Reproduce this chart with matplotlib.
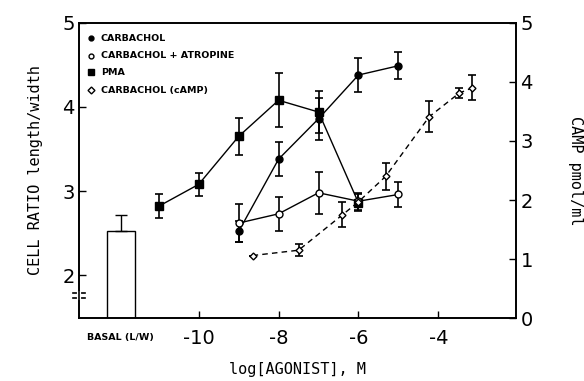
import numpy as np
import matplotlib.pyplot as plt

# basal bar
basal_x = -11.95
basal_val = 2.52
basal_err = 0.2

# carbachol (filled circles, left axis)
carb_x = [-9, -8, -7, -6, -5]
carb_y = [2.52, 3.38, 3.86, 4.38, 4.49]
carb_e = [0.12, 0.20, 0.25, 0.20, 0.16]

# carbachol + atropine (open circles, left axis)
atro_x = [-9, -8, -7, -6, -5]
atro_y = [2.62, 2.73, 2.98, 2.88, 2.96]
atro_e = [0.23, 0.20, 0.25, 0.10, 0.15]

# PMA (filled squares, left axis)
pma_x = [-11, -10, -9, -8, -7, -6]
pma_y = [2.82, 3.08, 3.65, 4.08, 3.94, 2.86]
pma_e = [0.14, 0.14, 0.22, 0.32, 0.25, 0.10]

# carbachol cAMP (open diamonds, right axis)
camp_x = [-8.65, -7.5, -6.4, -6.0, -5.32, -4.23, -3.48, -3.15]
camp_y = [1.06, 1.15, 1.75, 1.97, 2.40, 3.41, 3.81, 3.90]
camp_e = [0.0, 0.10, 0.21, 0.0, 0.23, 0.26, 0.08, 0.21]

tick_font = ['Liberation Sans Narrow', 'DejaVu Sans']
lab_font = 'DejaVu Sans Mono'

fig = plt.figure(figsize=(5.84, 3.81), dpi=100)
ax = fig.add_axes([0.135, 0.165, 0.749, 0.775])
ax2 = ax.twinx()

ax.bar([basal_x], [basal_val], width=0.7, bottom=0, color='white',
       edgecolor='black', linewidth=1.0, zorder=2)
ax.errorbar([basal_x], [basal_val], yerr=[[0], [basal_err]], fmt='none',
            ecolor='black', elinewidth=1.0, capsize=4, zorder=3)

ek = dict(ecolor='black', elinewidth=1.2, capsize=3, capthick=1.2)
ax.errorbar(pma_x, pma_y, yerr=pma_e, fmt='-s', color='black', ms=6,
            lw=1.0, zorder=4, **ek)
ax.errorbar(carb_x, carb_y, yerr=carb_e, fmt='-o', color='black', ms=5,
            lw=1.0, zorder=4, **ek)
ax.errorbar(atro_x, atro_y, yerr=atro_e, fmt='-o', color='black', ms=5,
            mfc='white', lw=1.0, zorder=5, **ek)
ax2.errorbar(camp_x, camp_y, yerr=camp_e, fmt='--D', color='black', ms=3.5,
             mfc='white', lw=1.0, dashes=(4, 3), zorder=4, **ek)

ax.set_xlim(-13, -2.05)
ax.set_ylim(1.49, 5.0)
ax2.set_ylim(0, 5)

ax.set_xticks([-10, -8, -6, -4])
ax.set_xticklabels(['-10', '-8', '-6', '-4'])
ax.set_yticks([2, 3, 4, 5])
ax2.set_yticks([0, 1, 2, 3, 4, 5])
ax.tick_params(axis='both', direction='in', length=5, width=1,
               labelsize=14, pad=3)
ax.tick_params(axis='x', pad=8)
ax2.tick_params(axis='y', direction='in', length=5, width=1,
                labelsize=14, pad=3)
for lbl in ax.get_xticklabels() + ax.get_yticklabels() + ax2.get_yticklabels():
    lbl.set_family(tick_font)

for a in (ax, ax2):
    for s in a.spines.values():
        s.set_linewidth(1.2)

# broken left axis
ax.plot([-13.15, -12.85], [1.79, 1.79], color='black', lw=1.2,
        clip_on=False, zorder=6)
ax.plot([-13.15, -12.85], [1.73, 1.73], color='black', lw=1.2,
        clip_on=False, zorder=6)
ax.plot([-13, -13], [1.735, 1.785], color='white', lw=3,
        clip_on=False, zorder=6)

ax.text(basal_x, 1.49 - 0.23, 'BASAL (L/W)', ha='center', va='center',
        fontsize=6.8, fontweight='bold', family=tick_font)

ax.set_ylabel('CELL RATIO length/width', family=lab_font, fontsize=11,
              labelpad=14)
ax2.set_ylabel('CAMP pmol/ml', family=lab_font, fontsize=11, rotation=-90,
               labelpad=36)
ax.set_xlabel('log[AGONIST], M', family=lab_font, fontsize=11, labelpad=10)

# legend
leg_rows = [('o', 'black', 'CARBACHOL', 4.82),
            ('o', 'white', 'CARBACHOL + ATROPINE', 4.61),
            ('s', 'black', 'PMA', 4.41),
            ('D', 'white', 'CARBACHOL (cAMP)', 4.20)]
for m, fc, txt, yy in leg_rows:
    ax.plot([-12.7], [yy], marker=m, color='black', mfc=fc,
            ms=3.5 if m != 's' else 4, ls='none', zorder=6)
    ax.text(-12.45, yy, txt, ha='left', va='center', fontsize=6.8,
            fontweight='bold', family=tick_font)

fig.savefig('out.png', dpi=100)
